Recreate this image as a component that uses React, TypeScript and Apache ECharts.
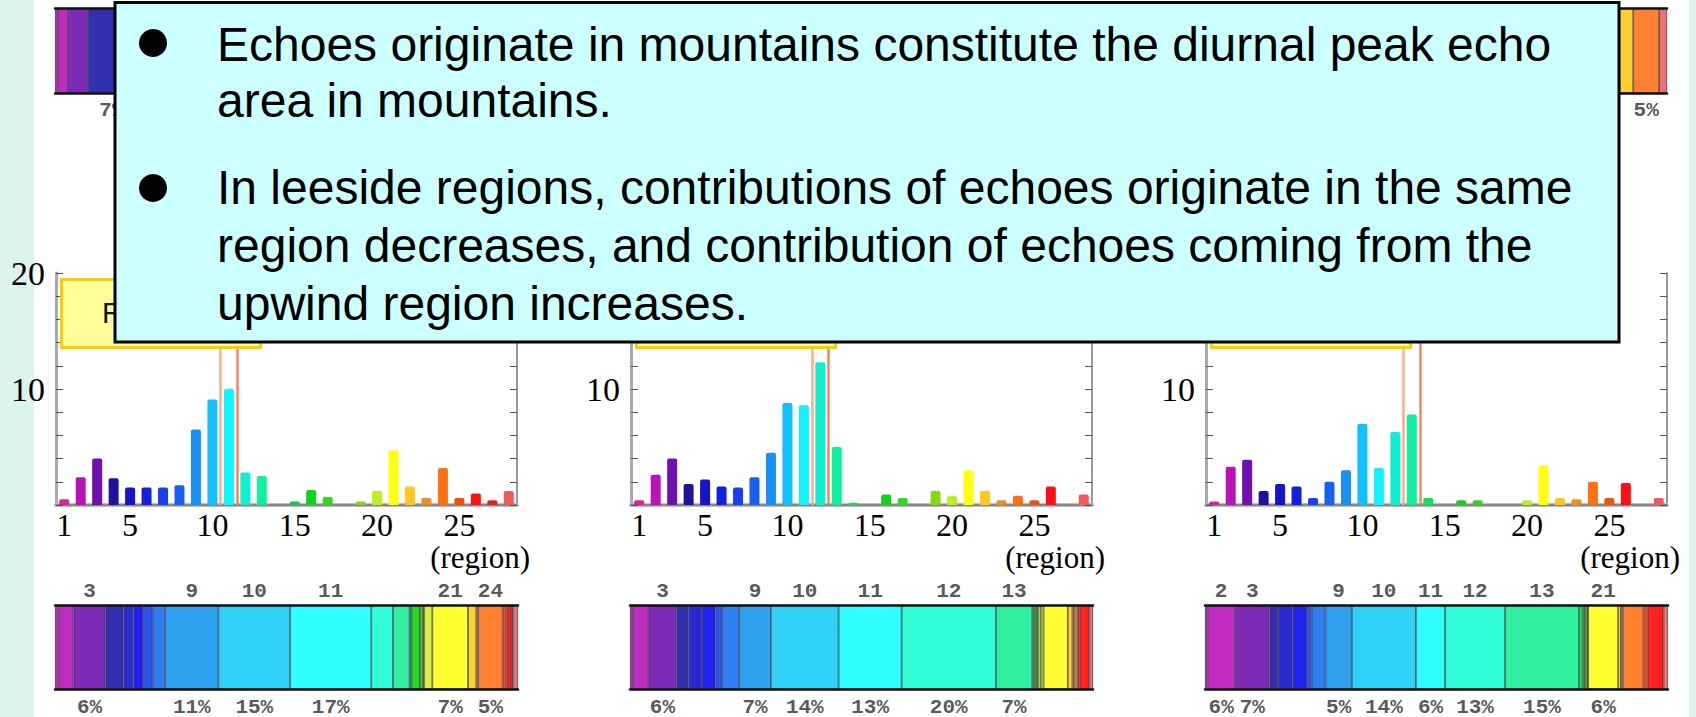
import React, { useEffect, useRef } from "react";
import * as echarts from "echarts";

// ---------- data ----------
const REGIONS = ["1","2","3","4","5","6","7","8","9","10","11","12","13","14","15","16","17","18","19","20","21","22","23","24","25","26","27","28"];
const X_TICK_LABELS = ["1", "5", "10", "15", "20", "25"];
// y tick labels that are visible in each panel (the others lie under the text box)
const PANEL1_Y_LABELS = [10, 20];
const PANEL2_Y_LABELS = [10];
const PANEL3_Y_LABELS = [10];

const BAR_COLORS = [
  "#e0209a", "#b812b8", "#7010b0", "#20109a", "#1414c8", "#1420e0", "#1840f0",
  "#1a60f0", "#1890f8", "#10c0ff", "#10f4ff", "#10f0d0", "#10f0a0", "#10e060",
  "#10c840", "#10d020", "#30d820", "#60d010", "#88d810", "#b8f020", "#ffff10",
  "#ffc820", "#e89020", "#ff7010", "#f05010", "#ff1010", "#e02020", "#f05a5a",
];
const STACK_COLORS = [
  "#c02cc0", "#c02cc0", "#7d2ab8", "#3230b0", "#2a2ad0", "#2222f0", "#2a55f0",
  "#2f7ef2", "#30a0f0", "#30d0f8", "#30ffff", "#30ffd8", "#30f0a0", "#20e050",
  "#20d030", "#20e020", "#60e020", "#90e020", "#b0f030", "#d8f040", "#ffff30",
  "#ffd030", "#f0a030", "#ff8030", "#ff5020", "#ff2020", "#f03030", "#f07070",
];

// bar heights (%), regions 1..28
const PANEL1_VALUES = [0.5, 2.4, 4.0, 2.3, 1.5, 1.5, 1.5, 1.7, 6.5, 9.1, 10.0, 2.8, 2.5, 0, 0.3, 1.3, 0.7, 0, 0.3, 1.2, 4.7, 1.6, 0.6, 3.2, 0.6, 1.0, 0.4, 1.2];
const PANEL2_VALUES = [0.4, 2.6, 4.0, 1.8, 2.2, 1.6, 1.5, 2.4, 4.5, 8.8, 8.6, 12.3, 5.0, 0.2, 0, 0.9, 0.6, 0, 1.2, 0.8, 3.0, 1.2, 0.4, 0.8, 0.4, 1.6, 0, 0.9];
const PANEL3_VALUES = [0.3, 3.3, 3.9, 1.2, 1.8, 1.6, 0.6, 2.0, 3.0, 7.0, 3.2, 6.3, 7.8, 0.6, 0, 0.4, 0.4, 0, 0, 0.4, 3.4, 0.6, 0.5, 2.0, 0.6, 1.9, 0, 0.6];
const PANEL_TARGETS = [11, 12, 13];

// stacked share bars (%), regions 1..28
const PANEL1_SHARES = [0.8, 3.2, 6.9, 3.9, 2.1, 2.1, 2.1, 2.7, 11.5, 15.5, 17.5, 4.7, 3.6, 0, 0.4, 1.8, 0.6, 0, 0.3, 1.8, 7.7, 1.8, 0.4, 5.3, 0.8, 1.0, 0.4, 1.1];
const PANEL2_SHARES = [0.6, 3.3, 6.1, 2.5, 2.9, 2.9, 1.4, 3.7, 6.8, 14.5, 13.5, 20.2, 7.8, 0.3, 0, 0.5, 0.4, 0, 0.6, 0.6, 5.2, 1.0, 0.4, 0.7, 0.4, 2.1, 0, 0.8];
const PANEL3_SHARES = [0.5, 6.0, 7.5, 1.8, 3.2, 3.1, 1.0, 3.0, 5.7, 13.9, 6.3, 13.0, 16.0, 0.8, 0, 0.5, 0.5, 0, 0, 0.2, 6.5, 0.6, 0.4, 4.5, 0.9, 3.4, 0, 1.0];

const PANEL1_LABEL_REGIONS = [3, 9, 10, 11, 21, 24];
const PANEL1_LABEL_PCT = [6, 11, 15, 17, 7, 5];
const PANEL2_LABEL_REGIONS = [3, 9, 10, 11, 12, 13];
const PANEL2_LABEL_PCT = [6, 7, 14, 13, 20, 7];
const PANEL3_LABEL_REGIONS = [2, 3, 9, 10, 11, 12, 13, 21];
const PANEL3_LABEL_PCT = [6, 7, 5, 14, 6, 13, 15, 6];

// partly hidden share bars of the upper row
const TOP_LEFT_REGIONS = [1, 2, 3, 4];
const TOP_LEFT_SHARES = [0.6, 2.2, 4.3, 10.4];
const TOP_LEFT_LABEL_REGIONS = [4];
const TOP_LEFT_LABEL_PCT = [7];
const TOP_RIGHT_REGIONS = [28, 24, 22, 21];
const TOP_RIGHT_SHARES = [1.7, 5.6, 3.0, 8.0];
const TOP_RIGHT_LABEL_REGIONS = [24];
const TOP_RIGHT_LABEL_PCT = [5];

const BULLET_PARAGRAPHS = [
  ["Echoes originate in mountains constitute the diurnal peak echo", "area in mountains."],
  [
    "In leeside regions, contributions of echoes originate in the same",
    "region decreases, and contribution of echoes coming from the",
    "upwind region increases.",
  ],
];
const BOX_TITLE = "R";

// ---------- layout ----------
const PLOT_LEFTS = [56, 631, 1206];
const PLOT_W = 461;
const SERIF = "'Liberation Serif', 'DejaVu Serif', serif";
const SANS = "'Liberation Sans', Arial, sans-serif";
const MONO = "'Liberation Mono', 'DejaVu Sans Mono', monospace";

function buildOption() {
  const grid: any[] = [];
  const xAxis: any[] = [];
  const yAxis: any[] = [];
  const series: any[] = [];
  const graphic: any[] = [];

  const panels = [
    { values: PANEL1_VALUES, shares: PANEL1_SHARES, lr: PANEL1_LABEL_REGIONS, lp: PANEL1_LABEL_PCT, yl: PANEL1_Y_LABELS },
    { values: PANEL2_VALUES, shares: PANEL2_SHARES, lr: PANEL2_LABEL_REGIONS, lp: PANEL2_LABEL_PCT, yl: PANEL2_Y_LABELS },
    { values: PANEL3_VALUES, shares: PANEL3_SHARES, lr: PANEL3_LABEL_REGIONS, lp: PANEL3_LABEL_PCT, yl: PANEL3_Y_LABELS },
  ];

  const labelText = { color: "#5a5a5a", fontFamily: MONO, fontSize: 21, fontWeight: "bold", lineHeight: 18 };
  const makeStackLabel = (region: number, lr: number[], lp: number[], showTop: boolean) => {
    const k = lr.indexOf(region);
    if (k < 0) return { show: false };
    return {
      show: true,
      position: "inside",
      offset: [0, 2],
      color: "#5a5a5a",
      textBorderWidth: 0,
      formatter: `{a|${showTop ? region : " "}}\n{g| }\n{b|${lp[k]}%}`,
      rich: { a: labelText, g: { lineHeight: 98, fontSize: 10 }, b: labelText },
    };
  };

  const addStackBar = (
    key: string,
    left: number,
    top: number,
    regions: number[],
    shares: number[],
    lr: number[],
    lp: number[],
    showTop: boolean,
    inverse: boolean,
    total: number
  ) => {
    const gi = grid.length;
    grid.push({ left, top, width: 463, height: 85 - (top > 100 ? 1 : 0) });
    const xb = xAxis.length;
    const lineAxis = (pos: string) => ({
      type: "value",
      gridIndex: gi,
      position: pos,
      min: 0,
      max: total,
      inverse,
      z: 10,
      axisLine: { show: true, onZero: false, lineStyle: { color: "#111", width: 2.5 } },
      axisTick: { show: false },
      axisLabel: { show: false },
      splitLine: { show: false },
    });
    xAxis.push(lineAxis("bottom"), lineAxis("top"));
    const yi = yAxis.length;
    yAxis.push({ type: "category", gridIndex: gi, data: [key], show: false });
    regions.forEach((r, i) => {
      const v = shares[i];
      if (!v) return;
      series.push({
        type: "bar",
        name: `${key}-${r}`,
        stack: key,
        xAxisIndex: xb,
        yAxisIndex: yi,
        barWidth: "100%",
        data: [v],
        itemStyle: { color: STACK_COLORS[r - 1], borderColor: "rgba(30,30,50,0.75)", borderWidth: 0.8 },
        label: makeStackLabel(r, lr, lp, showTop),
        silent: true,
      });
    });
  };

  panels.forEach((p, pi) => {
    const L = PLOT_LEFTS[pi];
    // --- bar chart ---
    const gi = grid.length;
    grid.push({ left: L, top: 273, width: PLOT_W, height: 232 });
    const xCat = xAxis.length;
    xAxis.push({
      type: "category",
      gridIndex: gi,
      data: REGIONS,
      position: "bottom",
      axisLine: { lineStyle: { color: "#bdbdbd", width: 4 } },
      axisTick: { inside: true, length: 8, alignWithLabel: true, interval: 0, lineStyle: { color: "#333", width: 1.5 } },
      axisLabel: {
        interval: (_i: number, v: string) => X_TICK_LABELS.includes(v),
        fontFamily: SERIF,
        fontSize: 32,
        color: "#000",
        margin: 4,
      },
      name: "(region)",
      nameLocation: "end",
      nameGap: 13,
      nameTextStyle: { fontFamily: SERIF, fontSize: 31, color: "#000", align: "right", verticalAlign: "top", padding: [37, 0, 0, 0] },
    });
    xAxis.push({
      type: "category",
      gridIndex: gi,
      data: REGIONS,
      position: "top",
      axisLine: { lineStyle: { color: "#777", width: 1.5 } },
      axisTick: { inside: true, length: 6, interval: 0, lineStyle: { color: "#555" } },
      axisLabel: { show: false },
    });
    const xVal = xAxis.length;
    xAxis.push({ type: "value", gridIndex: gi, min: 0.5, max: 28.5, show: false });
    const yL = yAxis.length;
    const yCommon = { type: "value", gridIndex: gi, min: 0, max: 20, interval: 2, splitLine: { show: false } };
    const yLabels = p.yl;
    yAxis.push({
      ...yCommon,
      position: "left",
      axisLine: { show: true, lineStyle: { color: "#aaa", width: 3 } },
      axisTick: { show: true, inside: true, length: 7, lineStyle: { color: "#555" } },
      axisLabel: {
        formatter: (v: number) => (yLabels.includes(v) ? String(v) : ""),
        fontFamily: SERIF,
        fontSize: 34,
        color: "#000",
        margin: 11,
      },
    });
    yAxis.push({
      ...yCommon,
      position: "right",
      axisLine: { show: true, lineStyle: { color: "#777", width: 1.5 } },
      axisTick: { show: true, inside: true, length: 7, lineStyle: { color: "#555" } },
      axisLabel: { show: false },
    });
    series.push({
      type: "bar",
      name: `panel${pi + 1}`,
      xAxisIndex: xCat,
      yAxisIndex: yL,
      barWidth: 10,
      data: p.values.map((v, i) => ({ value: v, itemStyle: { color: BAR_COLORS[i], borderRadius: [2, 2, 0, 0] } })),
      silent: true,
    });
    const t = PANEL_TARGETS[pi];
    series.push({
      type: "line",
      name: `target${pi + 1}`,
      xAxisIndex: xVal,
      yAxisIndex: yL,
      data: [],
      silent: true,
      markLine: {
        symbol: "none",
        silent: true,
        label: { show: false },
        data: [
          { xAxis: t - 0.5, lineStyle: { color: "#ffad88", width: 2.5, type: "solid" } },
          { xAxis: t + 0.5, lineStyle: { color: "#f5875a", width: 2.5, type: "solid" } },
        ],
      },
    });
    // yellow title box (mostly hidden)
    graphic.push({
      type: "rect",
      z: 100,
      shape: { x: L + 5.5, y: 279.5, width: 199, height: 68 },
      style: { fill: "#ffff99", stroke: "#ffcc00", lineWidth: 3 },
    });
    if (pi === 0) {
      graphic.push({
        type: "text",
        z: 101,
        x: 102,
        y: 313,
        style: { text: BOX_TITLE, fill: "#111", font: `29px ${SANS}`, verticalAlign: "middle" },
      });
    }
    // --- share bar ---
    const total = p.shares.reduce((a, b) => a + b, 0);
    addStackBar(`share${pi + 1}`, L - 1, 605, REGIONS.map(Number), p.shares, p.lr, p.lp, true, false, total);
  });

  // upper row, partly hidden
  addStackBar("topLeft", 55, 8, TOP_LEFT_REGIONS, TOP_LEFT_SHARES, TOP_LEFT_LABEL_REGIONS, TOP_LEFT_LABEL_PCT, false, false, 100);
  addStackBar("topRight", 1204, 8, TOP_RIGHT_REGIONS, TOP_RIGHT_SHARES, TOP_RIGHT_LABEL_REGIONS, TOP_RIGHT_LABEL_PCT, false, true, 100);

  // page background strips
  graphic.push({ type: "rect", z: 0, shape: { x: 0, y: 0, width: 34, height: 717 }, style: { fill: "#dcf3ee" } });
  graphic.push({ type: "rect", z: 0, shape: { x: 1689, y: 0, width: 7, height: 717 }, style: { fill: "#dcf3ee" } });

  // text box
  graphic.push({
    type: "rect",
    z: 110,
    shape: { x: 115, y: 2.5, width: 1504, height: 339.5 },
    style: { fill: "#ccffff", stroke: "#000", lineWidth: 3 },
  });
  const baselines = [[61, 117], [204, 262, 320]];
  const bulletY = [43, 188];
  BULLET_PARAGRAPHS.forEach((lines, pi) => {
    graphic.push({ type: "circle", z: 120, shape: { cx: 153, cy: bulletY[pi], r: 14 }, style: { fill: "#000" } });
    lines.forEach((line, li) => {
      graphic.push({
        type: "text",
        z: 120,
        x: 217,
        y: baselines[pi][li] - 16.6,
        style: { text: line, fill: "#000", font: `48px ${SANS}`, verticalAlign: "middle" },
      });
    });
  });

  return {
    animation: false,
    backgroundColor: "#ffffff",
    grid,
    xAxis,
    yAxis,
    series,
    graphic,
  };
}

export default function App() {
  const ref = useRef<HTMLDivElement>(null);
  useEffect(() => {
    if (!ref.current) return;
    const chart = echarts.init(ref.current, undefined, { renderer: "svg" });
    chart.setOption(buildOption() as any);
    return () => chart.dispose();
  }, []);
  return <div ref={ref} style={{ position: "fixed", left: 0, top: 0, width: 1696, height: 717 }} />;
}
